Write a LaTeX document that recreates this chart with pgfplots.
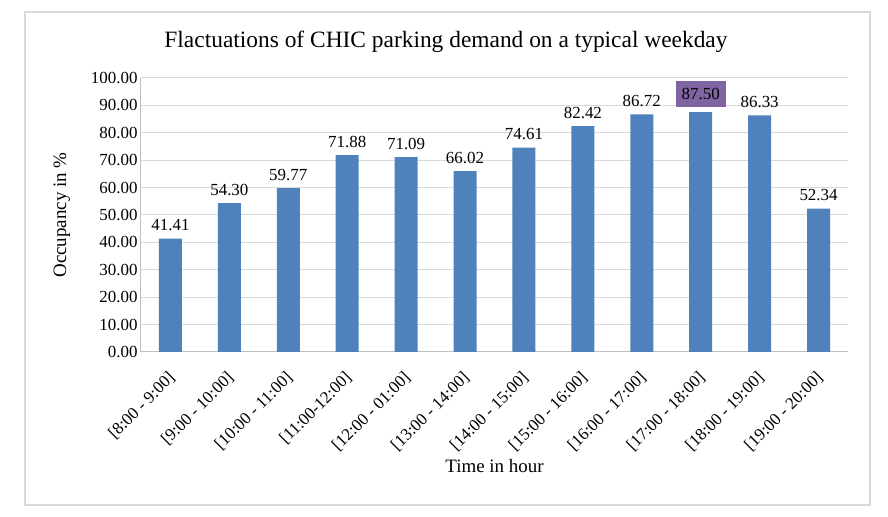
\documentclass[border=0pt]{standalone}
\usepackage{fontspec}
\setmainfont{Liberation Serif}
\usepackage{pgfplots}
\pgfplotsset{compat=1.18}
\definecolor{barblue}{HTML}{4F81BD}
\definecolor{hlpurple}{HTML}{8064A2}
\definecolor{gridgray}{HTML}{D9D9D9}
\definecolor{axisgray}{HTML}{BFBFBF}
\begin{document}
\begin{tikzpicture}[x=1bp,y=1bp]
\useasboundingbox (-141,-165) rectangle (747,352);
\draw[gridgray, line width=2bp] (-116,-153) rectangle (729,340);
\node[font=\fontsize{23.5}{28}\selectfont] at (305,310) {Flactuations of CHIC parking demand on a typical weekday};
\begin{axis}[
  at={(0,0)}, anchor=south west,
  scale only axis, width=707bp, height=274bp,
  ybar, bar width=23bp,
  xmin=-0.5, xmax=11.5, ymin=0, ymax=100,
  ytick={0,10,...,100},
  xtick={0,...,11},
  xticklabels={{[8:00 - 9:00]},{[9:00 - 10:00]},{[10:00 - 11:00]},{[11:00-12:00]},{[12:00 - 01:00]},{[13:00 - 14:00]},{[14:00 - 15:00]},{[15:00 - 16:00]},{[16:00 - 17:00]},{[17:00 - 18:00]},{[18:00 - 19:00]},{[19:00 - 20:00]}},
  xticklabel style={xshift=4bp, yshift=-21bp, rotate=45, anchor=east, font=\fontsize{17}{20}\selectfont},
  yticklabel style={font=\fontsize{17}{20}\selectfont, /pgf/number format/.cd, fixed, fixed zerofill, precision=2, assume math mode=true},
  axis x line*=bottom, axis y line*=left,
  axis line style={axisgray, line width=1bp},
  major tick length=0pt,
  ymajorgrids, grid style={gridgray, line width=1bp},
  xlabel={Time in hour}, ylabel={Occupancy in \%},
  every axis x label/.style={at={(rel axis cs:0.5,0)}, yshift=-114bp, anchor=center, font=\fontsize{19}{23}\selectfont},
  every axis y label/.style={at={(rel axis cs:0,0.5)}, xshift=-79bp, rotate=90, anchor=center, font=\fontsize{19}{23}\selectfont},
  point meta=explicit symbolic,
  nodes near coords,
  every node near coord/.append style={font=\fontsize{17}{20}\selectfont, black, anchor=south, yshift=4bp},
]
\addplot[fill=barblue, draw=none, bar shift=0pt] coordinates {
(0,41.41) [41.41] (1,54.30) [54.30] (2,59.77) [59.77] (3,71.88) [71.88]
(4,71.09) [71.09] (5,66.02) [66.02] (6,74.61) [74.61] (7,82.42) [82.42]
(8,86.72) [86.72] (9,87.50) [{}] (10,86.33) [86.33] (11,52.34) [52.34]};
\addplot[fill=barblue, draw=none, bar shift=0pt,
  every node near coord/.append style={fill=hlpurple, minimum width=50bp, minimum height=26bp, inner sep=0pt, yshift=1bp}]
  coordinates {(9,87.50) [87.50]};
\end{axis}
\end{tikzpicture}
\end{document}
